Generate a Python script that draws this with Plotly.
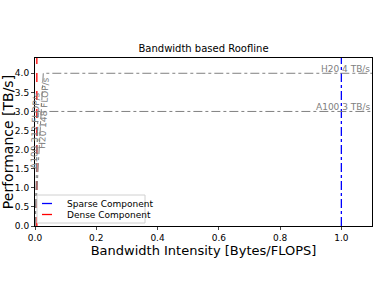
import plotly.graph_objects as go

# Data
gpu_names = ["H20", "A100"]
gpu_bw_tbs = [4, 3]            # memory bandwidth, TB/s
gpu_tflops = [148, 312]        # compute, TFLOP/s
component_names = ["Sparse Component", "Dense Component"]
component_intensity = [1.0, 0.006]   # Bytes/FLOPS
component_colors = ["blue", "red"]
component_dash = ["dashdot", "dash"]
x_max = 1.1
y_max = 4.4

W, H = 381, 285
ML, MR, MT, MB = 35, 9, 58, 59
PW, PH = W - ML - MR, H - MT - MB

def px(xp):   # pixel x -> paper
    return (xp - ML) / PW

def py(yp):   # pixel y -> paper
    return (H - MB - yp) / PH

fig = go.Figure()

# Component vertical lines
for name, xi, c, d in zip(component_names, component_intensity, component_colors, component_dash):
    fig.add_trace(go.Scatter(x=[xi, xi], y=[0, y_max], mode="lines", name=name,
                             showlegend=False,
                             line=dict(color=c, dash=d, width=1.3)))

# Rooflines
for name, bw, fl in zip(gpu_names, gpu_bw_tbs, gpu_tflops):
    ridge = bw / fl
    fig.add_trace(go.Scatter(x=[0, ridge, x_max], y=[0, bw, bw], mode="lines",
                             showlegend=False,
                             line=dict(color="gray", dash="dashdot", width=1)))
    fig.add_annotation(x=x_max, y=bw, text=f"{name} {bw} TB/s", showarrow=False,
                       xanchor="right", yanchor="bottom", yshift=-3,
                       font=dict(family="DejaVu Sans", size=9, color="gray"))

# Slope labels
slope_label_pos = {"H20": (0.029, 2.96, -87), "A100": (0.0, 2.49, -88)}
for name, bw, fl in zip(gpu_names, gpu_bw_tbs, gpu_tflops):
    lx, ly, ang = slope_label_pos[name]
    fig.add_annotation(x=lx, y=ly, text=f"{name} {fl} FLOP/s", showarrow=False,
                       textangle=ang, xanchor="center", yanchor="middle",
                       font=dict(family="DejaVu Sans", size=9, color="gray"))

# Legend (drawn in the matplotlib style)
fig.add_shape(type="rect", xref="paper", yref="paper",
              x0=px(37), x1=px(145), y0=py(223), y1=py(195),
              line=dict(color="#d0d0d0", width=1), fillcolor="white", layer="above")
for i, (name, c, d) in enumerate(zip(component_names, component_colors, component_dash)):
    yc = 203.5 + i * 11
    fig.add_shape(type="line", xref="paper", yref="paper",
                  x0=px(42), x1=px(52), y0=py(yc), y1=py(yc),
                  line=dict(color=c, width=1.3), layer="above")
    fig.add_annotation(xref="paper", yref="paper", x=px(65), y=py(yc), text=name,
                       showarrow=False, xanchor="left", yanchor="middle",
                       font=dict(family="DejaVu Sans", size=9, color="black"))

fig.update_layout(
    width=W, height=H,
    margin=dict(l=ML, r=MR, t=MT, b=MB),
    paper_bgcolor="white", plot_bgcolor="white",
    font=dict(family="DejaVu Sans", color="black"),
    title=dict(text="Bandwidth based Roofline", xref="paper", x=0.5, xanchor="center",
               y=1 - 48 / H, yanchor="middle", font=dict(size=10)),
    showlegend=False,
    xaxis=dict(range=[0, x_max], tickvals=[0, 0.2, 0.4, 0.6, 0.8, 1.0],
               ticktext=["0.0", "0.2", "0.4", "0.6", "0.8", "1.0"],
               showgrid=False, zeroline=False, showline=True, mirror=True,
               linecolor="black", linewidth=1, ticks="outside", ticklen=3,
               tickfont=dict(size=9), automargin=False,
               title=dict(text="Bandwidth Intensity [Bytes/FLOPS]", font=dict(size=13), standoff=4)),
    yaxis=dict(range=[0, y_max], tickvals=[0, 0.5, 1, 1.5, 2, 2.5, 3, 3.5, 4],
               ticktext=["0.0", "0.5", "1.0", "1.5", "2.0", "2.5", "3.0", "3.5", "4.0"],
               showgrid=False, zeroline=False, showline=True, mirror=True,
               linecolor="black", linewidth=1, ticks="outside", ticklen=3,
               tickfont=dict(size=9), automargin=False,
               title=dict(text="Performance [TB/s]", font=dict(size=14), standoff=3)),
)

fig.write_html("out.html", config={"displayModeBar": False},
               post_script="document.body.style.margin='0';document.body.style.padding='0';")
